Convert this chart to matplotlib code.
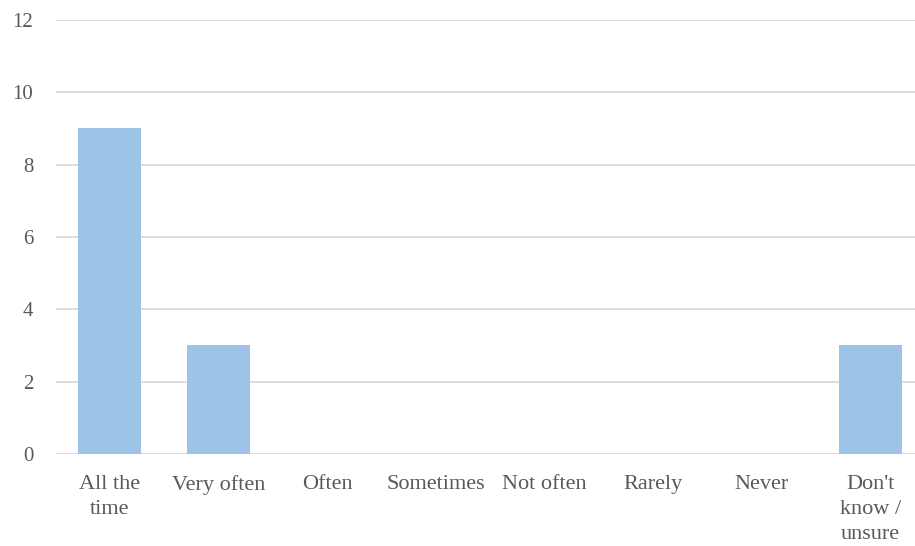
import matplotlib
matplotlib.use('Agg')
import matplotlib.pyplot as plt

categories = ['All the\ntime', 'Very often', 'Often', 'Sometimes', 'Not often',
              'Rarely', 'Never', "Don't\nknow /\nunsure"]
counts = [9, 3, 0, 0, 0, 0, 0, 3]

plt.rcParams['font.family'] = ['Liberation Serif', 'DejaVu Serif']

fig = plt.figure(figsize=(9.15, 5.46), dpi=100)
ax = fig.add_axes([0.0608, 0.1685, 0.950, 0.795])

x = range(len(categories))
ax.bar(x, counts, width=0.58, color='#9dc3e6', zorder=3)

ax.set_xlim(-0.5, len(categories) - 0.5)
ax.set_ylim(0, 12)
ax.set_yticks(range(0, 13, 2))
ax.yaxis.grid(True, color='#d9d9d9', linewidth=1.3, zorder=0)
ax.set_xticks(list(x))
ax.set_xticklabels(categories, va='top', linespacing=1.45)
ax.tick_params(axis='x', length=0, labelsize=16, colors='#595959', pad=15)
ax.tick_params(axis='y', length=0, labelsize=15, colors='#595959', pad=16)
for s in ax.spines.values():
    s.set_visible(False)

fig.savefig('out.png', dpi=100)
